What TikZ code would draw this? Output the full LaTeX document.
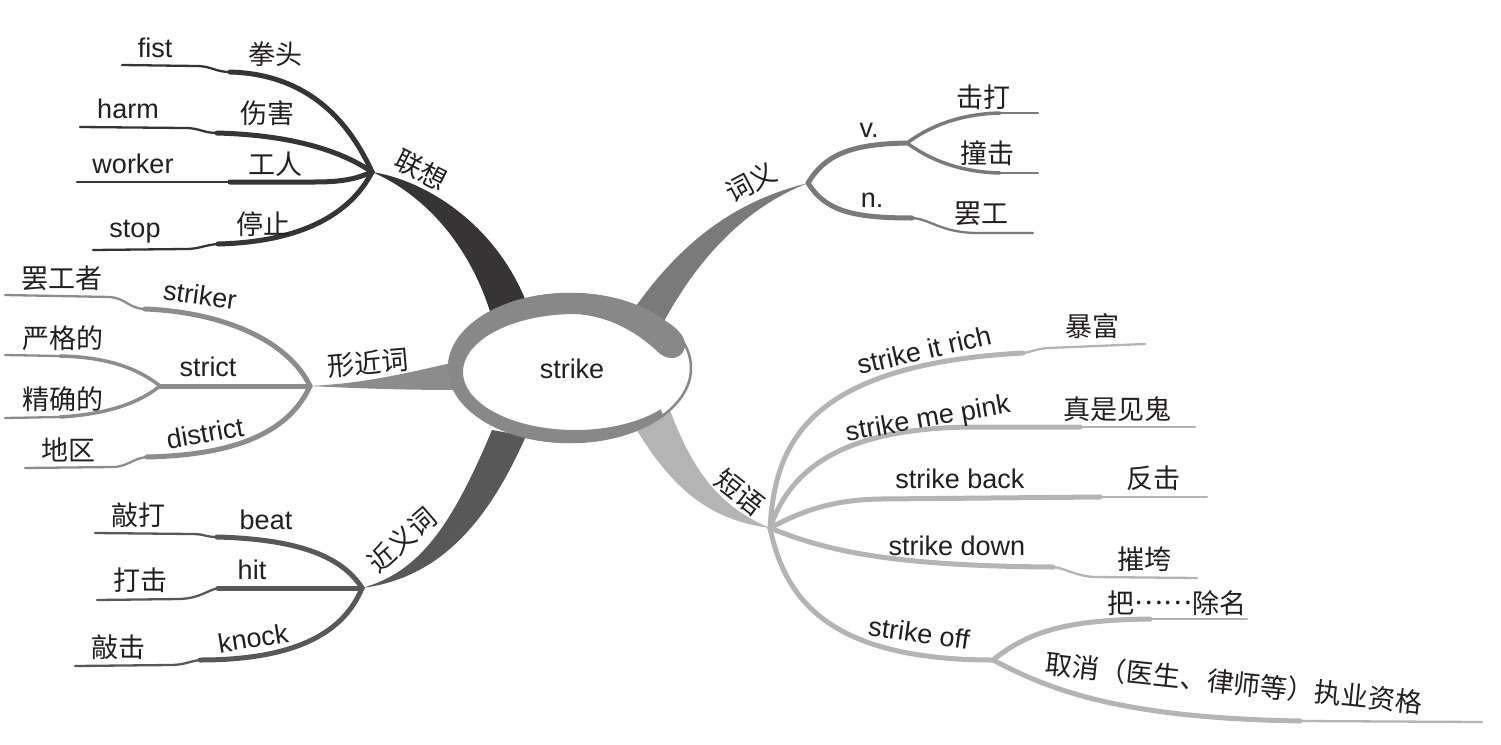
\documentclass[tikz,border=0pt]{standalone}
\usepackage{fontspec}
\setmainfont{Liberation Sans}
\newfontfamily\cjk{Noto Sans CJK SC}
\definecolor{cA}{HTML}{363435}
\definecolor{cB}{HTML}{8C8C8C}
\definecolor{cC}{HTML}{585858}
\definecolor{cD}{HTML}{7A7A7A}
\definecolor{cE}{HTML}{B4B4B4}
\definecolor{cR}{HTML}{888888}
\definecolor{txt}{HTML}{231F20}
\tikzset{
  en/.style={font=\fontsize{27}{30}\selectfont, text=txt, inner sep=0pt},
  zh/.style={font=\cjk\fontsize{27}{30}\selectfont, text=txt, inner sep=0pt},
  limb/.style={line width=5pt, line cap=round},
  mid/.style={line width=3.5pt, line cap=round},
  twig/.style={line width=2.3pt, line cap=round},
}
\begin{document}
\begin{tikzpicture}[x=1pt, y=-1pt]
\fill[white] (0,0) rectangle (1501,744);
\useasboundingbox (0,0) rectangle (1501,744);

% hubs
\coordinate (L) at (372,172);
\coordinate (X) at (310,386);
\coordinate (J) at (362,588);
\coordinate (W) at (808,183);
\coordinate (P) at (770,528);

% main tapered bands
\fill[cA] (L) .. controls (415,190) and (468,236) .. (492,318) -- (530,312) .. controls (500,225) and (425,180) .. (L) -- cycle;
\fill[cB] (X) .. controls (370,383) and (410,372) .. (465,360) -- (465,390) .. controls (410,390) and (370,389) .. (X) -- cycle;
\fill[cC] (J) .. controls (420,572) and (452,525) .. (492,430) -- (526,436) .. controls (488,522) and (440,578) .. (J) -- cycle;
\fill[cD] (W) .. controls (740,200) and (678,238) .. (620,330) -- (662,325) .. controls (702,250) and (752,205) .. (W) -- cycle;
\fill[cE] (P) .. controls (710,520) and (670,490) .. (628,415) -- (668,405) .. controls (690,465) and (715,505) .. (P) -- cycle;

% centre
\draw[cR, line width=2.5pt, fill=white] (570,368) ellipse [x radius=121, y radius=74];
\fill[cR] (663.5,416.2) arc[start angle=40, end angle=320, x radius=122, y radius=75]
  .. controls (678,328) and (690,340) .. (683,352)
  .. controls (677,361) and (665,359) .. (658,352)
  .. controls (640,335) and (612,316) .. (575,314)
  arc[start angle=270, end angle=40, x radius=112, y radius=58] -- cycle;
\node[en] (centre) at (572,369) {strike};

% 联想
\coordinate (fistJ) at (230,72); \coordinate (fistE) at (122,65);
\coordinate (harmJ) at (217,133); \coordinate (harmE) at (80,127);
\coordinate (workJ) at (230,182); \coordinate (workE) at (77,182);
\coordinate (stopJ) at (218,244); \coordinate (stopE) at (93,250);
\draw[cA,limb] (L) .. controls (345,112) and (300,74) .. (fistJ);
\draw[cA,twig] (fistJ) .. controls (215,72) and (212,66) .. (196,66) -- (fistE);
\draw[cA,limb] (L) .. controls (340,150) and (290,135) .. (harmJ);
\draw[cA,twig] (harmJ) .. controls (203,133) and (200,128) .. (185,128) -- (harmE);
\draw[cA,limb] (L) .. controls (358,178) and (345,182) .. (315,182) -- (workJ);
\draw[cA,twig] (workJ) -- (workE);
\draw[cA,limb] (L) .. controls (350,215) and (300,242) .. (stopJ);
\draw[cA,twig] (stopJ) .. controls (204,245) and (200,249) .. (185,249) -- (stopE);
\node[en] (fist) at (155,48) {fist};
\node[zh] (quantou) at (275,54) {拳头};
\node[en] (harm) at (128,109) {harm};
\node[zh] (shanghai) at (267,113) {伤害};
\node[en] (worker) at (133,164) {worker};
\node[zh] (gongren) at (275,164) {工人};
\node[en] (stop) at (135,232) {stop};
\node[zh] (tingzhi) at (263,224) {停止};
\node[zh, rotate=-27] (lianxiang) at (421,170) {联想};

% 形近词
\coordinate (strkJ) at (145,309); \coordinate (strkE) at (5,295);
\coordinate (strictJ) at (160,386);
\coordinate (yanE) at (5,355); \coordinate (jingE) at (5,418);
\coordinate (distJ) at (147,457); \coordinate (distE) at (25,468);
\draw[cB,limb] (X) .. controls (288,340) and (222,312) .. (strkJ);
\draw[cB,twig] (strkJ) .. controls (130,309) and (125,298) .. (110,297) -- (strkE);
\draw[cB,limb] (X) -- (strictJ);
\draw[cB,mid] (strictJ) .. controls (140,370) and (110,357) .. (60,356);
\draw[cB,twig] (60,356) -- (yanE);
\draw[cB,mid] (strictJ) .. controls (140,402) and (110,414) .. (60,417);
\draw[cB,twig] (60,417) -- (jingE);
\draw[cB,limb] (X) .. controls (290,430) and (240,455) .. (distJ);
\draw[cB,twig] (distJ) .. controls (133,458) and (128,467) .. (112,467) -- (distE);
\node[zh] (bagongzhe) at (62,278) {罢工者};
\node[en, rotate=-8] (striker) at (200,295) {striker};
\node[zh] (yange) at (63,338) {严格的};
\node[en] (strict) at (208,367) {strict};
\node[zh] (jingque) at (63,399) {精确的};
\node[en, rotate=10] (district) at (205,433) {district};
\node[zh] (diqu) at (68,450) {地区};
\node[zh, rotate=5] (xingjinci) at (368,363) {形近词};

% 近义词
\coordinate (beatJ) at (217,537); \coordinate (beatE) at (95,533);
\coordinate (hitJ) at (218,588); \coordinate (hitE) at (97,600);
\coordinate (knockJ) at (200,660); \coordinate (knockE) at (75,666);
\draw[cC,limb] (J) .. controls (340,553) and (290,539) .. (beatJ);
\draw[cC,twig] (beatJ) .. controls (205,537) and (205,534) .. (192,534) -- (beatE);
\draw[cC,limb] (J) -- (hitJ);
\draw[cC,twig] (hitJ) .. controls (206,591) and (200,598) .. (180,599) -- (hitE);
\draw[cC,limb] (J) .. controls (345,630) and (300,660) .. (knockJ);
\draw[cC,twig] (knockJ) .. controls (190,661) and (185,665) .. (170,665) -- (knockE);
\node[zh] (qiaoda) at (138,515) {敲打};
\node[en] (beat) at (266,520) {beat};
\node[en] (hit) at (252,570) {hit};
\node[zh] (daji) at (140,580) {打击};
\node[en, rotate=9] (knock) at (253,638) {knock};
\node[zh] (qiaoji) at (118,647) {敲击};
\node[zh, rotate=41] (jinyici) at (402,540) {近义词};

% 词义
\coordinate (vJ) at (907,143);
\coordinate (jdE) at (1038,113); \coordinate (zjE) at (1038,173);
\coordinate (nJ) at (912,218); \coordinate (nE) at (1033,233);
\draw[cD,limb] (W) .. controls (825,155) and (850,144) .. (vJ);
\draw[cD,mid] (vJ) .. controls (930,126) and (960,114) .. (1000,113);
\draw[cD,twig] (1000,113) -- (jdE);
\draw[cD,mid] (vJ) .. controls (930,160) and (960,172) .. (1000,173);
\draw[cD,twig] (1000,173) -- (zjE);
\draw[cD,limb] (W) .. controls (825,210) and (850,218) .. (nJ);
\draw[cD,twig] (nJ) .. controls (930,219) and (940,232) .. (975,233) -- (nE);
\node[en] (v) at (869,130) {v.};
\node[zh] (jida) at (983,97) {击打};
\node[zh] (zhuangji) at (987,153) {撞击};
\node[en] (n) at (872,200) {n.};
\node[zh] (bagong) at (981,214) {罢工};
\node[zh, rotate=28] (ciyi) at (751,182) {词义};

% 短语
\coordinate (richJ) at (1023,353); \coordinate (richE) at (1145,344);
\coordinate (pinkJ) at (1080,427); \coordinate (pinkE) at (1195,427);
\coordinate (backJ) at (1100,497); \coordinate (backE) at (1207,497);
\coordinate (downJ) at (1053,567); \coordinate (downE) at (1197,578);
\coordinate (offJ) at (993,660);
\coordinate (chuJ) at (1150,619); \coordinate (chuE) at (1247,619);
\coordinate (quJ) at (1300,721); \coordinate (quE) at (1482,722);
\draw[cE,limb] (P) .. controls (775,450) and (800,365) .. (richJ);
\draw[cE,twig] (richJ) .. controls (1032,352) and (1035,349) .. (1048,348) -- (richE);
\draw[cE,limb] (P) .. controls (790,470) and (840,428) .. (973,427) -- (pinkJ);
\draw[cE,twig] (pinkJ) -- (pinkE);
\draw[cE,limb] (P) .. controls (800,512) and (830,500) .. (880,499) -- (backJ);
\draw[cE,twig] (backJ) -- (backE);
\draw[cE,limb] (P) .. controls (820,548) and (880,566) .. (downJ);
\draw[cE,twig] (downJ) .. controls (1065,568) and (1075,576) .. (1095,577) -- (downE);
\draw[cE,limb] (P) .. controls (785,600) and (830,660) .. (offJ);
\draw[cE,limb] (offJ) .. controls (1030,630) and (1070,620) .. (chuJ);
\draw[cE,twig] (chuJ) -- (chuE);
\draw[cE,limb] (offJ) .. controls (1050,690) and (1120,718) .. (quJ);
\draw[cE,twig] (quJ) -- (quE);
\node[en, rotate=13] (rich) at (924,350) {strike it rich};
\node[zh] (baofu) at (1092,326) {暴富};
\node[en, rotate=10] (pink) at (928,420) {strike me pink};
\node[zh] (zhenshi) at (1117,409) {真是见鬼};
\node[en] (back) at (960,479) {strike back};
\node[zh] (fanji) at (1153,478) {反击};
\node[en] (down) at (957,546) {strike down};
\node[zh] (cuikua) at (1144,559) {摧垮};
\node[en, rotate=-8] (off) at (919,633) {strike off};
\node[zh] (chuming) at (1177,603) {把\raisebox{0.33em}{……}除名};
\node[zh, rotate=-6] (quxiao) at (1234,683) {取消（医生、律师等）执业资格};
\node[zh, rotate=-38] (duanyu) at (740,492) {短语};
\end{tikzpicture}
\end{document}
